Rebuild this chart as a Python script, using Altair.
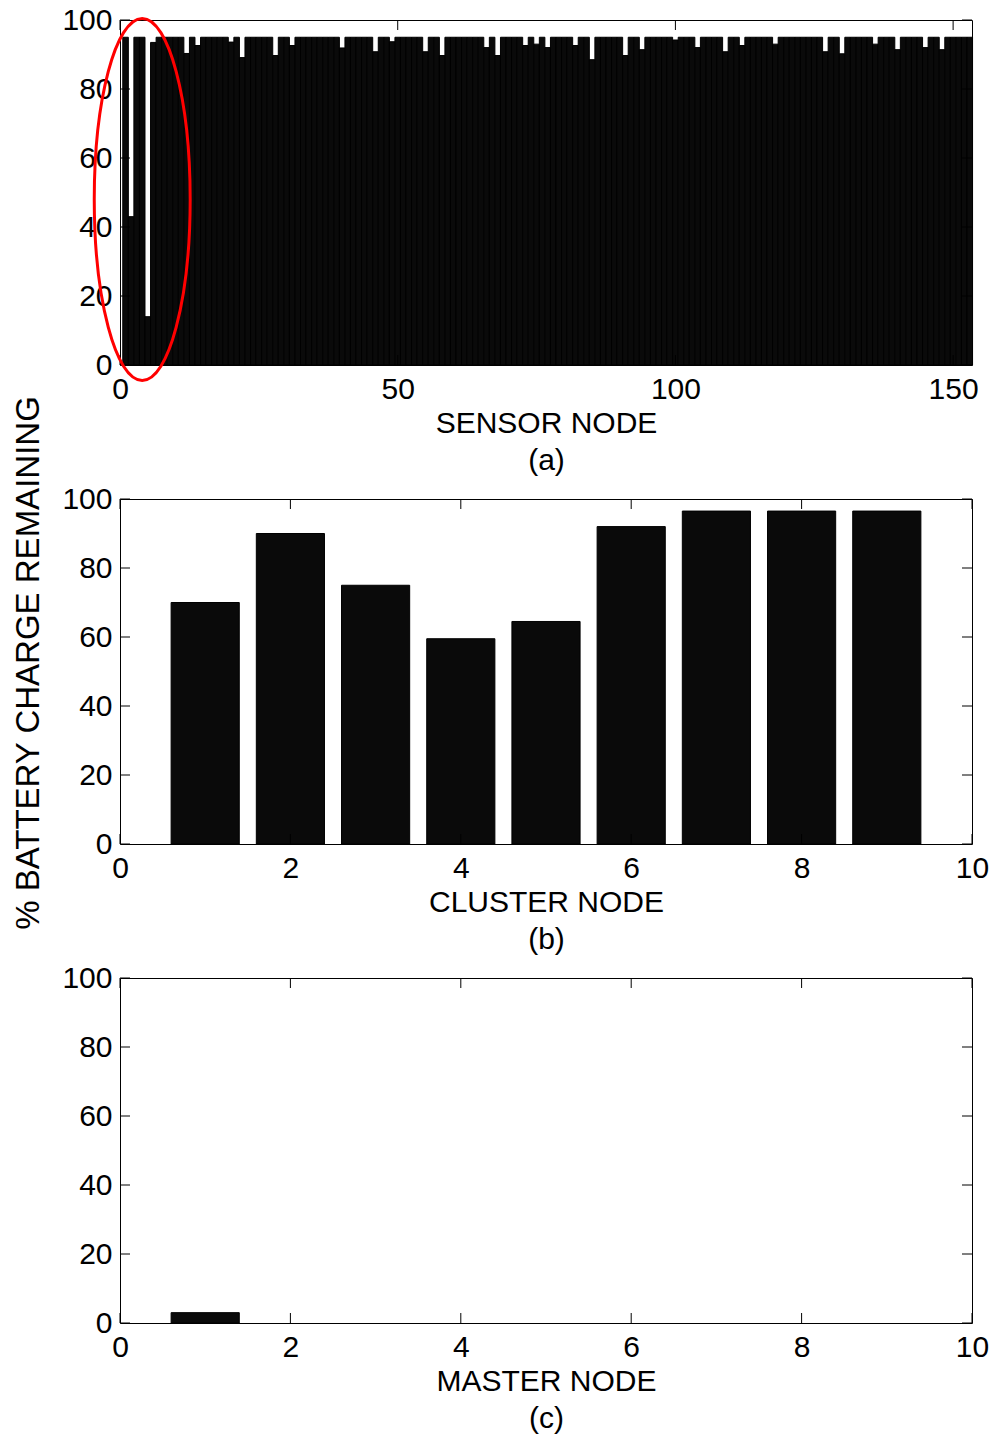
import altair as alt
import pandas as pd

# ---------------- data ----------------
sensor_nodes = list(range(1, 154))
sensor_charge = [
    95, 43, 95, 95, 14, 93.5, 95, 95, 95, 95,
    95, 90.3, 95, 92.6, 95, 95, 95, 95, 95, 93.6,
    95, 89.1, 95, 95, 95, 95, 95, 89.7, 95, 95,
    92.6, 95, 95, 95, 95, 95, 95, 95, 95, 91.9,
    95, 95, 95, 95, 95, 90.8, 95, 95, 93.7, 95,
    95, 95, 95, 95, 90.8, 95, 95, 89.7, 95, 95,
    95, 95, 95, 95, 95, 92, 95, 89.7, 95, 95,
    95, 95, 92.6, 95, 93, 95, 92, 95, 95, 95,
    95, 92.6, 95, 95, 88.5, 95, 95, 95, 95, 95,
    89.7, 95, 95, 91.4, 95, 95, 95, 95, 95, 94.2,
    95, 95, 95, 92, 95, 95, 95, 95, 90.8, 95,
    95, 92.6, 95, 95, 95, 95, 95, 93, 95, 95,
    95, 95, 95, 95, 95, 95, 90.8, 95, 95, 90.2,
    95, 95, 95, 95, 95, 93, 95, 95, 95, 91.4,
    95, 95, 95, 95, 92, 95, 95, 91.4, 95, 95,
    95, 95, 95,
]
cluster_nodes = [1, 2, 3, 4, 5, 6, 7, 8, 9]
cluster_charge = [70, 90, 75, 59.5, 64.5, 92, 96.5, 96.5, 96.5]
master_nodes = [1]
master_charge = [3]

y_ticks = [0, 20, 40, 60, 80, 100]
sensor_x_ticks = [0, 50, 100, 150]
node_x_ticks = [0, 2, 4, 6, 8, 10]

# annotation: red ellipse around the first sensor nodes
ellipse_node = [4]
ellipse_charge = [48]

# ---------------- style ----------------
W, H = 852, 345
TICK = 10
FONT = "Liberation Sans"
FS = 30
ELLIPSE_PATH = "M -0.265 0 A 0.265 1 0 1 0 0.265 0 A 0.265 1 0 1 0 -0.265 0 Z"


def panel(nodes, charge, x_domain, x_ticks, title_lines, half_w,
          y_title=None, ellipse=False):
    df = pd.DataFrame({"node": nodes, "charge": charge})
    df["x0"] = df["node"] - half_w
    df["x1"] = df["node"] + half_w
    df["base"] = 0
    xs = alt.Scale(domain=x_domain, nice=False, zero=False)
    ys = alt.Scale(domain=[0, 100], nice=False)

    xaxis = alt.Axis(values=x_ticks, title=title_lines,
                     titleLineHeight=37, titlePadding=4)
    if y_title:
        yaxis = alt.Axis(values=y_ticks, title=y_title, titlePadding=16,
                         titleFontSize=33, titleY=H / 2 - 9)
    else:
        yaxis = alt.Axis(values=y_ticks, title=None)

    bars = alt.Chart(df).mark_bar(
        color="#0a0a0a", stroke="#000000", strokeWidth=1
    ).encode(
        x=alt.X("x0:Q", scale=xs, axis=xaxis),
        x2="x1:Q",
        y=alt.Y("charge:Q", scale=ys, axis=yaxis),
        y2="base:Q",
    )

    xt = pd.DataFrame({"t": x_ticks})
    yt = pd.DataFrame({"t": y_ticks})
    bottom = alt.Chart(xt).mark_rule(color="black", strokeWidth=1).encode(
        x=alt.X("t:Q", scale=xs, axis=xaxis),
        y=alt.value(H), y2=alt.value(H - TICK))
    top = alt.Chart(xt).mark_rule(color="black", strokeWidth=1).encode(
        x=alt.X("t:Q", scale=xs, axis=xaxis),
        y=alt.value(0), y2=alt.value(TICK))
    left = alt.Chart(yt).mark_rule(color="black", strokeWidth=1).encode(
        y=alt.Y("t:Q", scale=ys, axis=yaxis),
        x=alt.value(0), x2=alt.value(TICK))
    right = alt.Chart(yt).mark_rule(color="black", strokeWidth=1).encode(
        y=alt.Y("t:Q", scale=ys, axis=yaxis),
        x=alt.value(W), x2=alt.value(W - TICK))

    layers = [bars, bottom, top, left, right]
    if ellipse:
        edf = pd.DataFrame({"node": ellipse_node, "charge": ellipse_charge})
        ell = alt.Chart(edf).mark_point(
            shape=ELLIPSE_PATH, size=362 * 362, filled=False,
            color="#ff0000", strokeWidth=3, opacity=1
        ).encode(
            x=alt.X("node:Q", scale=xs, axis=xaxis),
            y=alt.Y("charge:Q", scale=ys, axis=yaxis),
        )
        layers.append(ell)
    return alt.layer(*layers).properties(width=W, height=H)


pa = panel(sensor_nodes, sensor_charge, [0, 153.4], sensor_x_ticks,
           ["SENSOR NODE", "(a)"], 0.5, ellipse=True)
pb = panel(cluster_nodes, cluster_charge, [0, 10], node_x_ticks,
           ["CLUSTER NODE", "(b)"], 0.4,
           y_title="% BATTERY CHARGE REMAINING")
pc = panel(master_nodes, master_charge, [0, 10], node_x_ticks,
           ["MASTER NODE", "(c)"], 0.4)

chart = alt.vconcat(pa, pb, pc, spacing=134, bounds="flush").properties(
    padding={"left": 12, "top": 4, "right": 2, "bottom": 2},
    background="white",
).configure_view(
    stroke="black", strokeWidth=1
).configure_axis(
    labelFont=FONT, labelFontSize=FS, labelColor="black",
    titleFont=FONT, titleFontSize=FS, titleFontWeight="normal",
    titleColor="black", domain=False, ticks=False, grid=False,
    labelFlush=False, labelOverlap=False,
).configure_axisX(
    labelPadding=9
).configure_axisY(
    labelPadding=8
)

chart.save("out.html", embed_options={"renderer": "svg", "actions": False})
